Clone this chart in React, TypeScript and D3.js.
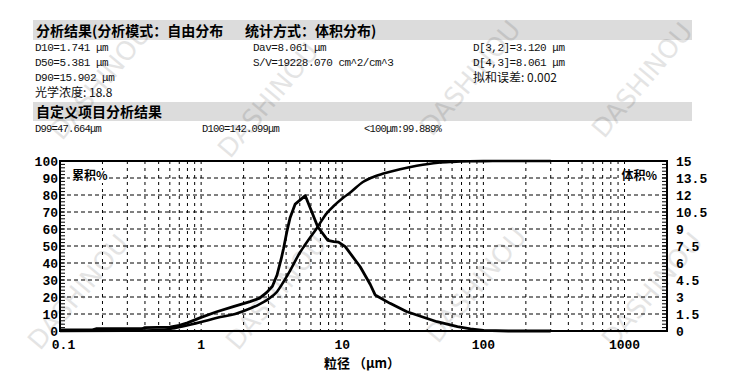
import React from "react";
import * as d3 from "d3";

// ---- data ----
const freqSizes = [0.1, 0.17, 0.18, 0.38, 0.4, 0.6, 0.7, 0.8, 1.0, 1.29, 1.69, 2.22, 2.6, 2.92, 3.2, 3.45, 3.7, 3.84, 4.05, 4.27, 4.64, 5.47, 6.0, 6.7, 7.9, 8.7, 9.4, 10.5, 13.4, 15.8, 17.1, 21.8, 28.5, 33.7, 46.9, 65.5, 81, 100, 150, 300];
const freqValues = [0.1, 0.1, 0.2, 0.2, 0.3, 0.35, 0.5, 0.72, 1.2, 1.7, 2.15, 2.59, 2.9, 3.41, 3.95, 4.94, 6.4, 7.3, 8.76, 10.0, 11.2, 11.94, 10.7, 9.2, 8.0, 7.88, 7.85, 7.44, 5.67, 4.1, 3.18, 2.44, 1.72, 1.41, 0.82, 0.38, 0.18, 0.06, 0.0, 0.0];

const cumSizes = [0.1, 0.3, 0.5, 0.6, 0.75, 1.0, 1.3, 1.741, 2.22, 2.6, 2.92, 3.45, 3.84, 4.27, 5.0, 5.381, 6.6, 7.8, 8.7, 10.2, 11.4, 14.1, 15.902, 19.6, 25.7, 33.7, 47.664, 60, 80, 100, 142.099, 300];
const cumValues = [0, 0.2, 0.6, 1.2, 2.8, 5.3, 7.8, 10, 13.2, 15.8, 18.2, 23.1, 29, 35.5, 46, 50, 60.5, 69.5, 73.5, 78.5, 81.5, 87.8, 90, 92.6, 95.2, 97.2, 99, 99.5, 99.85, 99.95, 100, 100];

const xTickValues = [0.1, 1, 10, 100, 1000];
const xTickLabels = ["0.1", "1", "10", "100", "1000"];
const leftTickValues = [0, 10, 20, 30, 40, 50, 60, 70, 80, 90, 100];
const rightTickLabels = ["0", "1.5", "3", "4.5", "6", "7.5", "9", "10.5", "12", "13.5", "15"];

const header1a = "分析结果(分析模式：自由分布";
const header1b = "统计方式：体积分布)";
const header2 = "自定义项目分析结果";
const col1 = ["D10=1.741  μm", "D50=5.381  μm", "D90=15.902  μm"];
const col2 = ["Dav=8.061  μm", "S/V=19228.070 cm^2/cm^3"];
const col3 = ["D[3,2]=3.120  μm", "D[4,3]=8.061  μm"];
const fitError = "拟和误差: 0.002";
const opticalDensity = "光学浓度: 18.8";
const customRow = ["D99=47.664μm", "D100=142.099μm", "<100μm:99.889%"];
const watermark = "DASHINOU";
const watermarkCenters: [number, number][] = [[100, 82], [268, 100], [470, 78], [642, 80], [78, 292], [276, 292], [476, 285], [652, 290]];

export default function App() {
  const L = 60, R = 667, T = 161, B = 331;
  const x = d3.scaleLog().domain([0.1, 2000]).range([L, R]);
  const yL = d3.scaleLinear().domain([0, 100]).range([B, T]);
  const yR = d3.scaleLinear().domain([0, 15]).range([B, T]);

  const gridX: number[] = [];
  [0.1, 1, 10, 100, 1000].forEach((dec) => {
    for (let k = 1; k <= 9; k++) {
      const v = dec * k;
      if (v > 0.1 && v < 2000) gridX.push(v);
    }
  });

  const freqLine = d3
    .line<number>()
    .x((_, i) => x(freqSizes[i]))
    .y((v) => yR(v))
    .curve(d3.curveLinear)(freqValues) as string;
  const cumLine = d3
    .line<number>()
    .x((_, i) => x(cumSizes[i]))
    .y((v) => yL(v))
    .curve(d3.curveMonotoneX)(cumValues) as string;

  const minorTicks = d3.range(0, 101, 2);
  const mono = "'Liberation Mono', 'DejaVu Sans Mono', monospace";
  const cjk = "'Noto Sans CJK SC', sans-serif";

  return (
    <svg width={743} height={378} style={{ position: "absolute", left: 0, top: 0, background: "#fff" }}>
      <rect x={0} y={0} width={743} height={378} fill="#fff" />
      {/* header bands */}
      <rect x={33} y={20} width={659} height={20} fill="#dcdcdc" />
      <rect x={33} y={102} width={659} height={19} fill="#dcdcdc" />
      <text x={36} y={36} fontFamily={cjk} fontWeight="bold" fontSize={14}>{header1a}</text>
      <text x={245} y={36} fontFamily={cjk} fontWeight="bold" fontSize={14}>{header1b}</text>
      <text x={36} y={117} fontFamily={cjk} fontWeight="bold" fontSize={14}>{header2}</text>
      {col1.map((t, i) => (
        <text key={"c1" + i} x={35} y={51 + i * 15} fontFamily={mono} fontSize={11} letterSpacing={-0.5} fill="#111">{t}</text>
      ))}
      {col2.map((t, i) => (
        <text key={"c2" + i} x={253} y={51 + i * 15} fontFamily={mono} fontSize={11} letterSpacing={-0.5} fill="#111">{t}</text>
      ))}
      {col3.map((t, i) => (
        <text key={"c3" + i} x={473} y={51 + i * 15} fontFamily={mono} fontSize={11} letterSpacing={-0.5} fill="#111">{t}</text>
      ))}
      <text x={473} y={82} fontFamily={cjk} fontSize={12} fill="#111">{fitError}</text>
      <text x={35} y={97} fontFamily={cjk} fontSize={12} fill="#111">{opticalDensity}</text>
      {customRow.map((t, i) => (
        <text key={"cr" + i} x={[35, 202, 364][i]} y={132} fontFamily={mono} fontSize={10.5} letterSpacing={-0.8} fill="#111">{t}</text>
      ))}

      {/* grid */}
      {gridX.map((v, i) => (
        <line key={"gx" + i} x1={x(v)} x2={x(v)} y1={T} y2={B} stroke="#000" strokeWidth={1} strokeDasharray="3,4" />
      ))}
      {leftTickValues.slice(1, -1).map((v, i) => (
        <line key={"gy" + i} x1={L} x2={R} y1={yL(v)} y2={yL(v)} stroke="#000" strokeWidth={1} strokeDasharray="4,3" />
      ))}
      {/* ticks */}
      {minorTicks.map((v, i) => (
        <g key={"mt" + i}>
          <line x1={L} x2={L + 5} y1={yL(v)} y2={yL(v)} stroke="#000" strokeWidth={1} />
          <line x1={R - 5} x2={R} y1={yL(v)} y2={yL(v)} stroke="#000" strokeWidth={1} />
        </g>
      ))}

      {/* curves */}
      <path d={cumLine} fill="none" stroke="#000" strokeWidth={2.6} strokeLinejoin="round" />
      <path d={freqLine} fill="none" stroke="#000" strokeWidth={2.8} strokeLinejoin="round" />

      {/* frame */}
      <rect x={L} y={T} width={R - L} height={B - T} fill="none" stroke="#000" strokeWidth={2} />

      {/* axis labels */}
      {leftTickValues.map((v, i) => (
        <text key={"yl" + i} x={58} y={yL(v)} dy="0.35em" textAnchor="end" fontFamily={mono} fontWeight="bold" fontSize={13}>{v}</text>
      ))}
      {rightTickLabels.map((t, i) => (
        <text key={"yr" + i} x={676} y={yR(+t)} dy="0.35em" textAnchor="start" fontFamily={mono} fontWeight="bold" fontSize={13}>{t}</text>
      ))}
      {xTickValues.map((v, i) => (
        <text key={"xl" + i} x={x(v) + (i === 0 ? 3.5 : 0)} y={349} textAnchor="middle" fontFamily={mono} fontWeight="bold" fontSize={13}>{xTickLabels[i]}</text>
      ))}
      <text x={362} y={368} textAnchor="middle" fontFamily={cjk} fontWeight="bold" fontSize={13}>粒径 （μm）</text>
      <rect x={70} y={170} width={38} height={13} fill="#fff" />
      <text x={72} y={180} fontFamily={cjk} fontWeight="bold" fontSize={12}>累积%</text>
      <rect x={620} y={170} width={39} height={13} fill="#fff" />
      <text x={657} y={180} textAnchor="end" fontFamily={cjk} fontWeight="bold" fontSize={12}>体积%</text>

      {/* watermarks */}
      {watermarkCenters.map(([cx, cy], i) => (
        <text key={"wm" + i} x={cx} y={cy} transform={`rotate(-50 ${cx} ${cy})`} textAnchor="middle" dy="0.35em" fontFamily="'DejaVu Sans', sans-serif" fontSize={26} fill="#000" opacity={0.1}>{watermark}</text>
      ))}
    </svg>
  );
}
